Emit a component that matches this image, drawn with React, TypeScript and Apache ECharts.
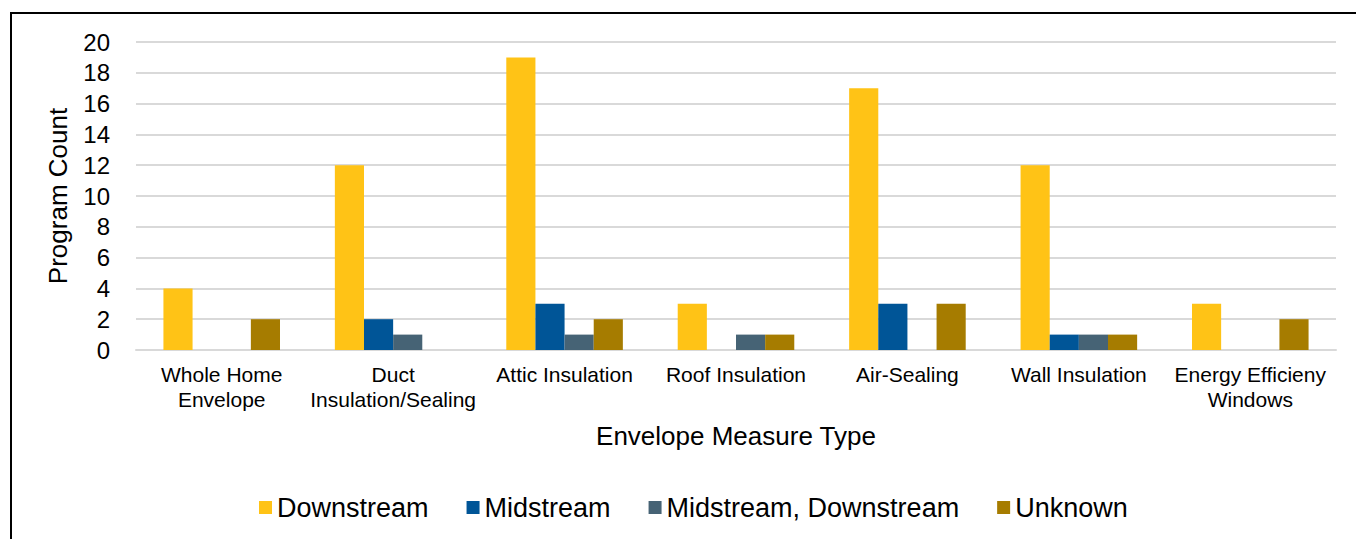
import React, { useEffect, useRef } from "react";
import * as echarts from "echarts";

// Envelope measure categories (x axis)
const categories: string[] = [
  "Whole Home\nEnvelope",
  "Duct\nInsulation/Sealing",
  "Attic Insulation",
  "Roof Insulation",
  "Air-Sealing",
  "Wall Insulation",
  "Energy Efficieny\nWindows",
];

// Program counts by delivery channel
const downstream: number[] = [4, 12, 19, 3, 17, 12, 3];
const midstream: number[] = [0, 2, 3, 0, 3, 1, 0];
const midstreamDownstream: number[] = [0, 1, 1, 1, 0, 1, 0];
const unknown: number[] = [2, 0, 2, 1, 3, 1, 2];

const seriesNames: string[] = ["Downstream", "Midstream", "Midstream, Downstream", "Unknown"];
const seriesColors: string[] = ["#FFC316", "#005597", "#466375", "#A67C00"];

// Y axis range
const yMin = 0;
const yMax = 20;
const yStep = 2;

const FONT = "Liberation Sans, Arial, sans-serif";

export default function App() {
  const ref = useRef<HTMLDivElement>(null);

  useEffect(() => {
    if (!ref.current) return;
    const chart = echarts.init(ref.current, undefined, { renderer: "svg" });
    const values = [downstream, midstream, midstreamDownstream, unknown];

    chart.setOption({
      animation: false,
      backgroundColor: "#ffffff",
      textStyle: { fontFamily: FONT, color: "#000" },
      graphic: [
        {
          type: "rect",
          shape: { x: 11, y: 13, width: 1400, height: 600 },
          style: { fill: "none", stroke: "#000", lineWidth: 2 },
          silent: true,
        },
      ],
      grid: { left: 136, right: 20, top: 42, bottom: 189, containLabel: false },
      legend: {
        data: seriesNames,
        left: 259,
        top: 494,
        padding: 0,
        icon: "rect",
        itemWidth: 13,
        itemHeight: 13,
        itemGap: 38,
        textStyle: { fontFamily: FONT, fontSize: 27, color: "#000" },
      },
      xAxis: {
        type: "category",
        data: categories,
        name: "Envelope Measure Type",
        nameLocation: "middle",
        nameGap: 86,
        nameTextStyle: { fontFamily: FONT, fontSize: 26, color: "#000", verticalAlign: "middle" },
        axisLine: { show: true, lineStyle: { color: "#d9d9d9", width: 2 } },
        axisTick: { show: false },
        axisLabel: {
          interval: 0,
          margin: 12,
          fontFamily: FONT,
          fontSize: 21,
          lineHeight: 25,
          color: "#000",
        },
      },
      yAxis: {
        type: "value",
        min: yMin,
        max: yMax,
        interval: yStep,
        name: "Program Count",
        nameLocation: "middle",
        nameGap: 78,
        nameTextStyle: { fontFamily: FONT, fontSize: 26, color: "#000", verticalAlign: "middle" },
        axisLine: { show: false },
        axisTick: { show: false },
        axisLabel: { fontFamily: FONT, fontSize: 24, color: "#000", margin: 26 },
        splitLine: { show: true, lineStyle: { color: "#d9d9d9", width: 2 } },
      },
      series: seriesNames.map((name, i) => ({
        name,
        type: "bar",
        data: values[i],
        barGap: "0%",
        barCategoryGap: "32%",
        itemStyle: { color: seriesColors[i] },
      })),
    });

    return () => chart.dispose();
  }, []);

  return (
    <div
      ref={ref}
      style={{ position: "absolute", left: 0, top: 0, width: 1356, height: 539, background: "#fff" }}
    />
  );
}
